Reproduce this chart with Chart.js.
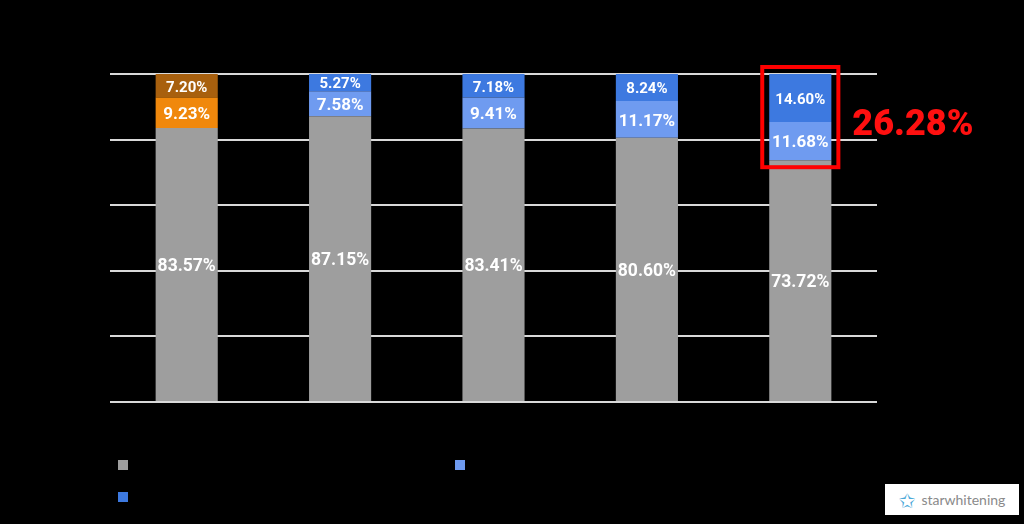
<!DOCTYPE html>
<html>
<head>
<meta charset="utf-8">
<script src="https://cdn.jsdelivr.net/npm/chart.js@4.4.1/dist/chart.umd.min.js"></script>
<style>
  html, body { margin: 0; padding: 0; background: #000; }
  #wrap { position: relative; width: 1024px; height: 524px; background: #000; }
  #logo { position: absolute; left: 885px; top: 484px; width: 134px; height: 31px; background: #fff;
          font-family: "Lato", "DejaVu Sans", sans-serif; color: #8a8a8a; font-size: 14px;
          display: flex; align-items: center; justify-content: center; gap: 6px; }
  #logo .star { color: #4aa8d8; font-size: 20px; line-height: 1; }
</style>
</head>
<body>
<div id="wrap">
  <canvas id="c" width="1024" height="524"></canvas>
  <div id="logo"><span class="star">✩</span><span>starwhitening</span></div>
</div>
<script>
const categories = ["1", "2", "3", "4", "5"];
const seriesNames = ["Series A", "Series B", "Series C"];
const baseValues = [83.57, 87.15, 83.41, 80.60, 73.72];
const midValues = [9.23, 7.58, 9.41, 11.17, 11.68];
const topValues = [7.20, 5.27, 7.18, 8.24, 14.60];
const yTicks = [0, 20, 40, 60, 80, 100];
const highlightIndex = 4;

const GRAY = "#9e9e9e", ORANGE = "#f0880c", BROWN = "#a8600e", LBLUE = "#6f9bf0", BLUE = "#3d79e0";
const FONT = "Roboto, 'Noto Sans', sans-serif";

const labelPlugin = {
  id: "segLabels",
  afterDatasetsDraw(chart) {
    const ctx = chart.ctx;
    ctx.save();
    ctx.fillStyle = "#ffffff";
    ctx.textAlign = "center";
    ctx.textBaseline = "middle";
    chart.data.datasets.forEach((ds, di) => {
      const meta = chart.getDatasetMeta(di);
      meta.data.forEach((bar, i) => {
        const v = ds.data[i];
        let size = di === 0 ? 17.5 : (di === 1 ? 17 : 15);
        ctx.font = "bold " + size + "px " + FONT;
        ctx.fillText(v.toFixed(2) + "%", bar.x, (bar.y + bar.base) / 2 + 2);
      });
    });
    // highlight box
    const mid = chart.getDatasetMeta(1).data[highlightIndex];
    const top = chart.getDatasetMeta(2).data[highlightIndex];
    const half = top.width / 2;
    ctx.strokeStyle = "#ff0000";
    ctx.lineWidth = 4;
    ctx.strokeRect(top.x - half - 7, top.y - 7, top.width + 14, mid.base - top.y + 14);
    const total = midValues[highlightIndex] + topValues[highlightIndex];
    ctx.fillStyle = "#ff1010";
    ctx.textAlign = "left";
    ctx.font = "900 36px " + FONT;
    ctx.fillText(total.toFixed(2) + "%", top.x + half + 21, (top.y + mid.base) / 2 + 9);
    // legend
    const legendPos = [[118, 460], [455, 460], [118, 492]];
    const legendCols = [GRAY, LBLUE, BLUE];
    ctx.font = "13px " + FONT;
    ctx.textAlign = "left";
    legendPos.forEach((p, k) => {
      ctx.fillStyle = legendCols[k];
      ctx.fillRect(p[0], p[1], 10, 10);
      ctx.fillStyle = "#000000";
      ctx.fillText(seriesNames[k], p[0] + 16, p[1] + 5);
    });
    ctx.restore();
  }
};

new Chart(document.getElementById("c"), {
  type: "bar",
  data: {
    labels: categories,
    datasets: [
      { label: seriesNames[0], data: baseValues, backgroundColor: GRAY },
      { label: seriesNames[1], data: midValues, backgroundColor: categories.map((c, i) => i === 0 ? ORANGE : LBLUE) },
      { label: seriesNames[2], data: topValues, backgroundColor: categories.map((c, i) => i === 0 ? BROWN : BLUE) }
    ]
  },
  options: {
    responsive: false,
    animation: false,
    devicePixelRatio: 1,
    layout: { padding: { left: 110, right: 147, top: 74, bottom: 114 } },
    plugins: { legend: { display: false }, tooltip: { enabled: false } },
    datasets: { bar: { barPercentage: 0.405, categoryPercentage: 1 } },
    scales: {
      x: { stacked: true, grid: { display: false }, border: { display: false }, ticks: { display: false } },
      y: {
        stacked: true, min: 0, max: 100,
        afterBuildTicks(axis) { axis.ticks = yTicks.map(v => ({ value: v })); },
        grid: { color: "#d9d9d9", lineWidth: 2, drawTicks: false },
        border: { display: false },
        ticks: { display: false }
      }
    }
  },
  plugins: [labelPlugin]
});
</script>
</body>
</html>
